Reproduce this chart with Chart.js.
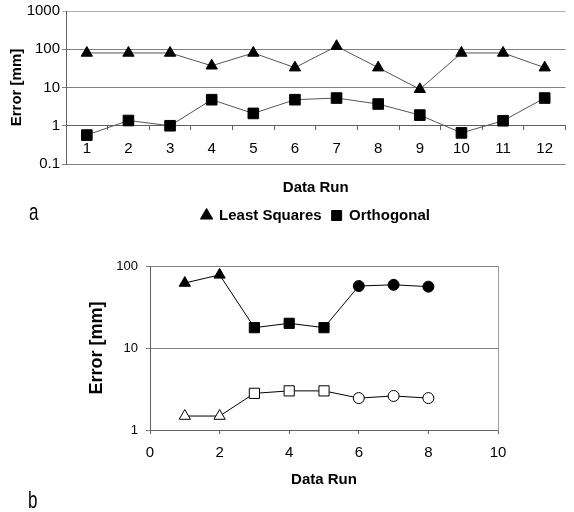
<!DOCTYPE html>
<html>
<head>
<meta charset="utf-8">
<script src="https://cdn.jsdelivr.net/npm/chart.js@4.4.1/dist/chart.umd.min.js"></script>
<style>
  body { margin: 0; background: #fff; width: 574px; height: 512px; overflow: hidden; position: relative; font-family: "Liberation Sans", Arial, sans-serif; }
  .box { position: absolute; }
  #wrapA { left: 0; top: 0; width: 574px; height: 233px; }
  #wrapB { left: 0; top: 240px; width: 574px; height: 272px; }
  .tag { position: absolute; font-size: 17px; line-height: 17px; color: #000; transform: scaleY(1.4); transform-origin: left top; }
</style>
</head>
<body>
<div class="box" id="wrapA"><canvas id="chartA"></canvas></div>
<div class="box" id="wrapB"><canvas id="chartB"></canvas></div>
<div class="tag" style="left:29px; top:200px;">a</div>
<div class="tag" style="left:28px; top:488px;">b</div>
<script>
// --- chart a: error per data run, two methods ---
const runsA = ['1', '2', '3', '4', '5', '6', '7', '8', '9', '10', '11', '12'];
const leastSquaresA = [80, 80, 80, 37, 80, 33, 120, 33, 9, 80, 80, 33];
const orthogonalA = [0.57, 1.37, 1.0, 4.8, 2.1, 4.8, 5.3, 3.7, 1.9, 0.65, 1.35, 5.3];
const decadesA = [0.1, 1, 10, 100, 1000];

// --- chart b: upper and lower error per data run ---
const runsB = [1, 2, 3, 4, 5, 6, 7, 8];
const upperB = [62, 78, 17.7, 20, 17.7, 57, 59, 56];
const lowerB = [1.48, 1.48, 2.8, 3.0, 3.0, 2.45, 2.6, 2.45];
const decadesB = [1, 10, 100];
const xTicksB = [0, 2, 4, 6, 8, 10];

Chart.defaults.font.family = '"Liberation Sans", Arial, sans-serif';
Chart.defaults.color = '#000';
Chart.defaults.animation = false;

const gridGray = '#808080';
const axisGray = '#606060';

new Chart(document.getElementById('chartA'), {
    type: 'line',
    data: {
        labels: runsA,
        datasets: [{
            label: 'Least Squares',
            data: leastSquaresA,
            borderColor: '#555',
            borderWidth: 1,
            pointStyle: 'triangle',
            pointRadius: 6.5,
            pointBackgroundColor: '#000',
            pointBorderColor: '#000',
            xAxisID: 'x'
        }, {
            label: 'Orthogonal',
            data: orthogonalA,
            borderColor: '#555',
            borderWidth: 1,
            pointStyle: 'rect',
            pointRadius: 7.5,
            pointBackgroundColor: '#000',
            pointBorderColor: '#000',
            xAxisID: 'x'
        }]
    },
    options: {
        responsive: true,
        maintainAspectRatio: false,
        layout: { padding: { top: 9, right: 0, bottom: 0, left: 0 } },
        plugins: {
            legend: {
                position: 'bottom',
                fullSize: false,
                labels: {
                    usePointStyle: true,
                    boxWidth: 10,
                    boxHeight: 10,
                    padding: 10,
                    color: '#000',
                    font: { size: 15, weight: 'bold' }
                }
            },
            tooltip: { enabled: false }
        },
        scales: {
            x: {
                type: 'category',
                position: { y: 1 },   // category axis crosses at 1
                offset: true,
                grid: { offset: true, drawOnChartArea: false, tickLength: 4, color: axisGray },
                border: { color: axisGray },
                ticks: { font: { size: 15 }, padding: 10, maxRotation: 0, autoSkip: false },
                afterFit: s => { s.height = 0; }
            },
            xTitle: {
                type: 'category',
                axis: 'x',
                position: 'bottom',
                labels: runsA,
                offset: true,
                grid: { display: false },
                border: { display: false },
                ticks: { display: false },
                title: { display: true, text: 'Data Run', font: { size: 15, weight: 'bold' }, padding: { top: 7, bottom: 1 } }
            },
            y: {
                type: 'logarithmic',
                min: 0.1,
                max: 1000,
                afterBuildTicks: s => { s.ticks = decadesA.map(v => ({ value: v })); },
                afterFit: s => { s.width = 66; },
                ticks: { font: { size: 15 }, padding: 2, callback: v => String(v) },
                grid: {
                    tickLength: 4,
                    color: ctx => (ctx.tick && ctx.tick.value === 1000) ? '#b0b0b0' : gridGray
                },
                border: { color: axisGray },
                title: { display: true, text: 'Error [mm]', font: { size: 15, weight: 'bold' }, padding: { top: 8, bottom: 0 } }
            }
        }
    }
});

// marker shape per run in chart b
const shapeB = i => (i < 2 ? 'triangle' : (i < 5 ? 'rect' : 'circle'));
const radiusB = i => ({ triangle: 6.5, rect: 7.2, circle: 5.5 })[shapeB(i)];

new Chart(document.getElementById('chartB'), {
    type: 'line',
    data: {
        datasets: [{
            label: 'upper',
            data: runsB.map((r, i) => ({ x: r, y: upperB[i] })),
            borderColor: '#000',
            borderWidth: 1,
            pointStyle: ctx => shapeB(ctx.dataIndex),
            pointRadius: ctx => radiusB(ctx.dataIndex),
            pointBackgroundColor: '#000',
            pointBorderColor: '#000'
        }, {
            label: 'lower',
            data: runsB.map((r, i) => ({ x: r, y: lowerB[i] })),
            borderColor: '#000',
            borderWidth: 1,
            pointStyle: ctx => shapeB(ctx.dataIndex),
            pointRadius: ctx => radiusB(ctx.dataIndex),
            pointBackgroundColor: '#fff',
            pointBorderColor: '#000',
            pointBorderWidth: 1
        }]
    },
    options: {
        responsive: true,
        maintainAspectRatio: false,
        layout: { padding: { top: 26, right: 76, bottom: 0, left: 0 } },
        plugins: {
            legend: { display: false },
            tooltip: { enabled: false }
        },
        scales: {
            x: {
                type: 'linear',
                min: 0,
                max: 10,
                afterBuildTicks: s => { s.ticks = xTicksB.map(v => ({ value: v })); },
                afterFit: s => { s.height = 82; },
                grid: { drawOnChartArea: false, tickLength: 4, color: axisGray },
                border: { color: axisGray },
                ticks: { font: { size: 15 }, padding: 10 },
                title: { display: true, text: 'Data Run', font: { size: 15, weight: 'bold' }, padding: { top: 4, bottom: 23 } }
            },
            y: {
                type: 'logarithmic',
                min: 1,
                max: 100,
                afterBuildTicks: s => { s.ticks = decadesB.map(v => ({ value: v })); },
                afterFit: s => { s.width = 150; },
                ticks: { font: { size: 13 }, padding: 8, callback: v => String(v) },
                grid: { tickLength: 4, color: gridGray },
                border: { color: axisGray },
                title: { display: true, text: 'Error [mm]', font: { size: 18, weight: 'bold' }, padding: { top: 86, bottom: 0 } }
            },
            yRight: {
                type: 'linear',
                position: 'right',
                grid: { display: false },
                ticks: { display: false },
                border: { color: '#a0a0a0' },
                afterFit: s => { s.width = 0; }
            }
        }
    }
});
</script>
</body>
</html>
